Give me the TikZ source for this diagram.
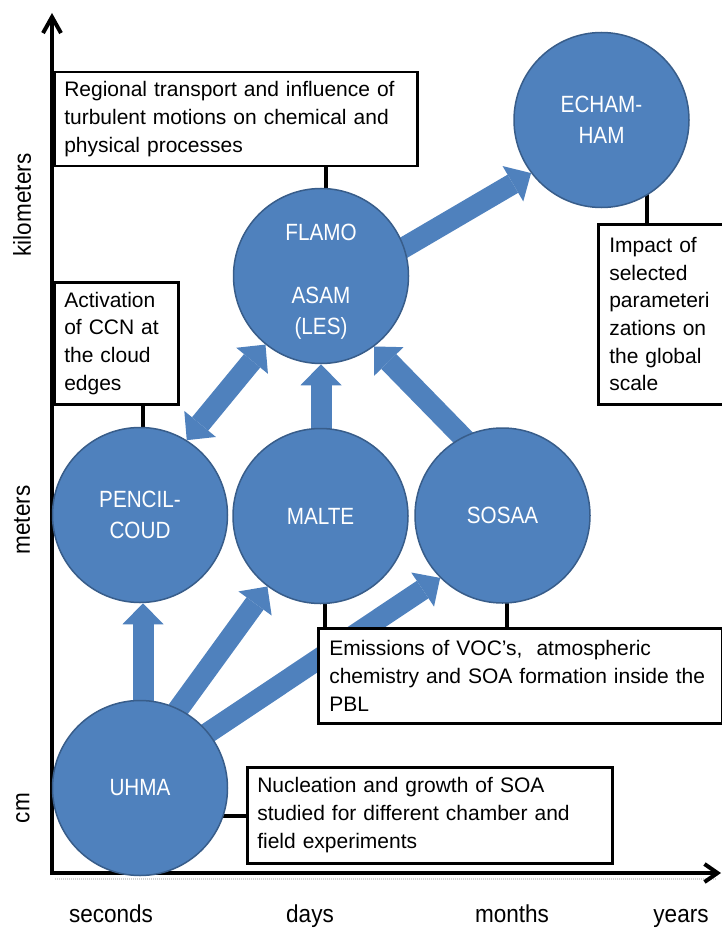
\documentclass[tikz,border=0pt]{standalone}
\usepackage{fontspec}
\setmainfont{Liberation Sans}
\newfontfamily\modelfont{Liberation Sans}[FakeStretch=0.88]
\newfontfamily\scalefont{Liberation Sans}[FakeStretch=0.92]
\usetikzlibrary{arrows.meta,calc}
\definecolor{modelblue}{RGB}{79,129,189}
\definecolor{modeledge}{RGB}{56,93,138}
\pgfdeclarelayer{paper}
\pgfdeclarelayer{under}
\pgfsetlayers{paper,under,main}
\begin{document}
\begin{tikzpicture}[x=1pt,y=-1pt,
  model/.style={circle, fill=modelblue, draw=modeledge, line width=1.5pt,
    minimum size=175pt, inner sep=0pt, text=white, align=center,
    font=\modelfont\fontsize{23.5}{31}\selectfont},
  note/.style={draw=black, line width=2.5pt, fill=white, anchor=north west,
    align=left, inner sep=0pt, font=\fontsize{21}{27.7}\selectfont},
  link/.style={line width=4.5pt, black},
  headtip/.tip={Triangle[length=21pt,width=41pt,line width=0pt]},
  flow/.style={modelblue, line width=21pt, -headtip},
  twoway/.style={modelblue, line width=21pt, headtip-headtip},
  scalelabel/.style={font=\scalefont\fontsize{24.5}{28}\selectfont, inner sep=0pt},
  timelabel/.style={scalelabel, anchor=base, text depth=0pt},
  axis/.style={line width=4pt, line join=miter,
    {Straight Barb[length=16pt,width=18pt]}-{Straight Barb[length=13pt,width=18pt]}}
]
\useasboundingbox (0,0) rectangle (722,928);
\begin{pgfonlayer}{paper}
  \fill[white] (0,0) rectangle (722,928);
\end{pgfonlayer}

% axes with their scale labels
\coordinate (ytop) at (52,13);
\coordinate (origin) at (52,873);
\coordinate (xend) at (721,873);
\draw[gray!35, line width=1.5pt, dash pattern=on 1pt off 1pt] (55,879) -- (716,879);
\draw[axis] (ytop) -- (origin) -- (xend);

\node[scalelabel, rotate=90] (km) at (22,205) {kilometers};
\node[scalelabel, rotate=90] (m) at (22,520) {meters};
\node[scalelabel, rotate=90] (cm) at (23,808) {cm};
\node[timelabel] (sec) at (111,922) {seconds};
\node[timelabel] (day) at (310,922) {days};
\node[timelabel] (mon) at (512,922) {months};
\node[timelabel] (yr) at (681,922) {years};

% models
\node[model] (uhma) at (140,788) {UHMA};
\node[model] (pencil) at (140,515) {PENCIL-\\COUD};
\node[model] (malte) at (320.5,516) {MALTE};
\node[model] (sosaa) at (502.5,515.5) {SOSAA};
\node[model] (flamo) at (321,276) {\rule{0pt}{27pt}FLAMO\\[32pt]ASAM\\(LES)};
\node[model] (echam) at (601.5,120) {ECHAM-\\HAM};

% descriptions
\node[note, minimum width=363pt, minimum height=94pt, text width=343pt] (regional) at (53,71)
  {Regional transport and influence of\\turbulent motions on chemical and\\physical processes};
\node[note, minimum width=124pt, minimum height=122pt, text width=104pt] (activation) at (53,281)
  {Activation\\of CCN at\\the cloud\\edges};
\node[note, minimum width=127pt, minimum height=180pt, text width=105pt] (impact) at (597,223)
  {Impact of\\selected\\parameteri\\zations on\\the global\\scale};
\node[note, minimum width=404pt, minimum height=95pt, text width=382pt] (emissions) at (317,627)
  {Emissions of VOC's,~ atmospheric\\chemistry and SOA formation inside the\\PBL};
\node[note, minimum width=365pt, minimum height=96pt, text width=345pt] (nucleation) at (246,766)
  {Nucleation and growth of SOA\\studied for different chamber and\\field experiments};

\begin{pgfonlayer}{under}
  % couplings between the models
  \draw[flow] ([xshift=3pt]uhma.center) -- ([xshift=3pt]pencil.south);
  \draw[flow] ($(uhma.64)!-25pt!(malte.233)$) -- (malte.233);
  \draw[flow] ($(uhma.39)!-25pt!(sosaa.225)$) -- (sosaa.225);
  \draw[flow] (malte.center -| flamo.south) -- (flamo.south);
  \draw[flow] ($(sosaa.117)!-25pt!(flamo.307)$) -- (flamo.307);
  \draw[twoway] (pencil.58) -- (flamo.231);
  \draw[flow] ($(flamo.19.5)!-25pt!(echam.217)$) -- (echam.217);

  % leaders from the models to their descriptions
  \draw[link] ([xshift=5pt]flamo.center) -- ([xshift=5pt]flamo.center |- regional.south);
  \draw[link] ([xshift=3pt]pencil.center) -- ([xshift=3pt]pencil.center |- activation.south);
  \draw[link] ([xshift=45.5pt]echam.center) -- ([xshift=45.5pt]echam.center |- impact.north);
  \draw[link] ([xshift=4.5pt]malte.center) -- ([xshift=4.5pt]malte.center |- emissions.north);
  \draw[link] ([xshift=4.5pt]sosaa.center) -- ([xshift=4.5pt]sosaa.center |- emissions.north);
  \draw[link] ([yshift=-28pt]uhma.center) -- ([yshift=-28pt]uhma.center -| nucleation.west);
\end{pgfonlayer}
\end{tikzpicture}
\end{document}
